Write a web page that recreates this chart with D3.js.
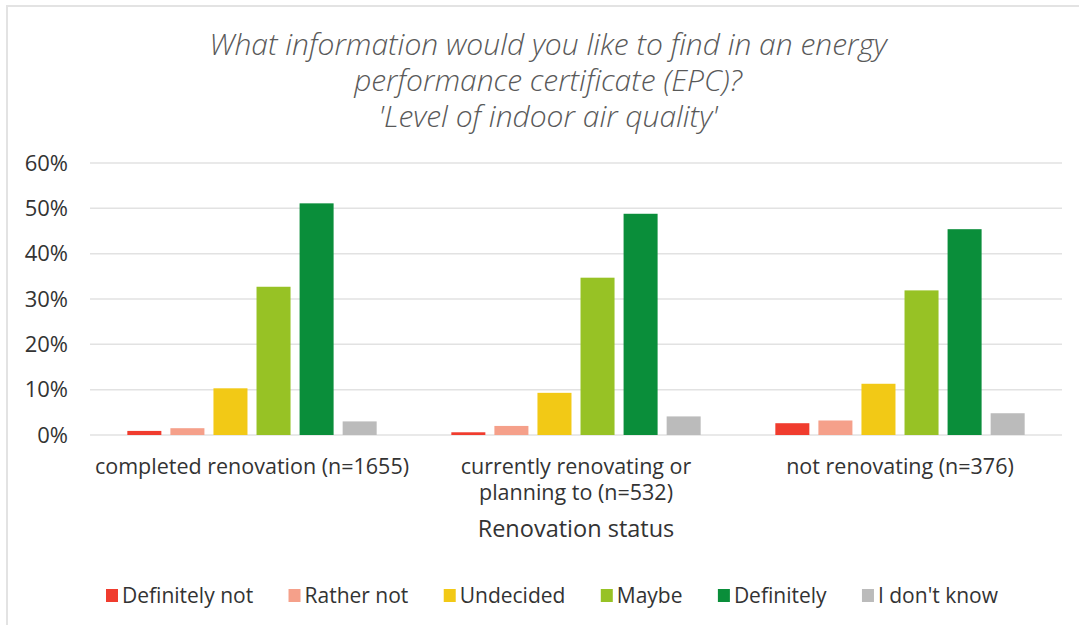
<!DOCTYPE html>
<html>
<head>
<meta charset="utf-8">
<script src="https://cdn.jsdelivr.net/npm/d3@7"></script>
<style>
  body { margin: 0; background: #fff; }
  svg { display: block; }
</style>
</head>
<body>
<svg id="chart" width="1079" height="625"></svg>
<script>
const titleLines = ["What information would you like to find in an energy", "performance certificate (EPC)?", "'Level of indoor air quality'"];
const groups = ["completed renovation (n=1655)", "currently renovating or planning to (n=532)", "not renovating (n=376)"];
const groupLines = [["completed renovation (n=1655)"], ["currently renovating or", "planning to (n=532)"], ["not renovating (n=376)"]];
const series = ["Definitely not", "Rather not", "Undecided", "Maybe", "Definitely", "I don't know"];
const colors = ["#f03c2e", "#f5a08a", "#f2c916", "#97c225", "#0a8e3a", "#bbbbbb"];
// values in %, one array per series, in group order
const definitelyNot = [0.9, 0.6, 2.6];
const ratherNot = [1.5, 2.0, 3.2];
const undecided = [10.3, 9.3, 11.3];
const maybe = [32.7, 34.7, 31.9];
const definitely = [51.1, 48.8, 45.4];
const dontKnow = [3.0, 4.1, 4.8];
const yTicks = [0, 10, 20, 30, 40, 50, 60];

const seriesValues = [definitelyNot, ratherNot, undecided, maybe, definitely, dontKnow];
const data = [];
groups.forEach((g, gi) => {
  series.forEach((s, si) => data.push({ group: g, series: s, value: seriesValues[si][gi] }));
});

const svg = d3.select("#chart");
const plotLeft = 90, plotRight = 1062, plotTop = 163, plotBottom = 435;
const font = "'Open Sans', 'Noto Sans', sans-serif";

// frame
svg.append("rect").attr("x", 7).attr("y", 6).attr("width", 1100).attr("height", 700)
  .attr("fill", "none").attr("stroke", "#e3e3e3").attr("stroke-width", 2);

// title
svg.append("g").selectAll("text").data(titleLines).join("text")
  .attr("x", 548).attr("y", (d, i) => 55 + i * 36)
  .attr("text-anchor", "middle")
  .attr("font-family", font).attr("font-style", "italic").attr("font-weight", 300)
  .attr("font-size", 30).attr("fill", "#595959")
  .text(d => d);

const x0 = d3.scaleBand().domain(groups).range([plotLeft, plotRight]).padding(0);
const x1 = d3.scaleBand().domain(series).range([0, x0.bandwidth()]).paddingInner(0.21).paddingOuter(0.867);
const y = d3.scaleLinear().domain([0, 60]).range([plotBottom, plotTop]);

// gridlines
svg.append("g").selectAll("line").data(yTicks).join("line")
  .attr("x1", plotLeft).attr("x2", plotRight)
  .attr("y1", d => y(d)).attr("y2", d => y(d))
  .attr("stroke", "#e2e2e2").attr("stroke-width", 1.5);

// y axis
const yAxis = d3.axisLeft(y).tickValues(yTicks).tickFormat(d => d + "%").tickSize(0).tickPadding(22);
const ya = svg.append("g").attr("transform", `translate(${plotLeft},0)`).call(yAxis);
ya.select(".domain").remove();
ya.selectAll("text").attr("font-family", font).attr("font-size", 22).attr("fill", "#333");

// bars
svg.append("g").selectAll("rect").data(data).join("rect")
  .attr("x", d => x0(d.group) + x1(d.series))
  .attr("width", x1.bandwidth())
  .attr("y", d => y(d.value))
  .attr("height", d => y(0) - y(d.value))
  .attr("fill", d => colors[series.indexOf(d.series)]);

// x category labels
const xl = svg.append("g");
groups.forEach((g, gi) => {
  xl.selectAll(null).data(groupLines[gi]).join("text")
    .attr("x", x0(g) + x0.bandwidth() / 2)
    .attr("y", (d, i) => 474 + i * 26)
    .attr("text-anchor", "middle")
    .attr("font-family", font).attr("font-size", 21.5).attr("fill", "#333")
    .text(d => d);
});

// axis title
svg.append("text").attr("x", 576).attr("y", 537).attr("text-anchor", "middle")
  .attr("font-family", font).attr("font-size", 23.5).attr("fill", "#333")
  .text("Renovation status");

// legend, spread over the same width as the original
const legendLeft = 106, legendRight = 998;
const legend = svg.append("g");
const items = series.map((s, i) => {
  const item = legend.append("g");
  item.append("rect").attr("x", 0).attr("y", 589).attr("width", 12).attr("height", 13).attr("fill", colors[i]);
  const t = item.append("text").attr("x", 16).attr("y", 603)
    .attr("font-family", font).attr("font-size", 21).attr("fill", "#333").text(s);
  return { item, w: 16 + t.node().getComputedTextLength() };
});
const gap = (legendRight - legendLeft - d3.sum(items, d => d.w)) / (items.length - 1);
let lx = legendLeft;
items.forEach(d => { d.item.attr("transform", `translate(${lx},0)`); lx += d.w + gap; });
</script>
</body>
</html>
